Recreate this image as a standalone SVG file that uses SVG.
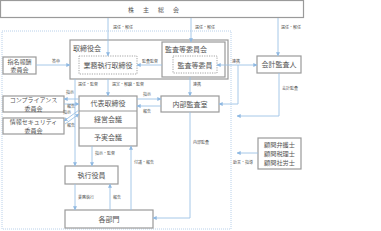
<svg xmlns="http://www.w3.org/2000/svg" width="381" height="231" viewBox="0 0 381 231">
<defs>
<marker id="ah" viewBox="0 0 6 6" refX="5.5" refY="3" markerWidth="4" markerHeight="4" orient="auto-start-reverse" markerUnits="userSpaceOnUse"><path d="M0,0 L6,3 L0,6 z" fill="#8fb9e2"/></marker>
</defs>
<style>
.box{fill:#fff;stroke:#9a9a9a;stroke-width:1.2}
.dbox{fill:#fff;stroke:#9a9a9a;stroke-width:0.9;stroke-dasharray:1.2 1.2}
.t{font-family:"Noto Sans CJK JP","Noto Sans CJK SC",sans-serif;font-size:7px;fill:#555;text-anchor:middle}
.tl{font-family:"Noto Sans CJK JP","Noto Sans CJK SC",sans-serif;font-size:7px;fill:#555}
.tc{font-family:"Noto Sans CJK JP","Noto Sans CJK SC",sans-serif;font-size:6px;fill:#555;text-anchor:middle}
.ta{font-family:"Noto Sans CJK JP","Noto Sans CJK SC",sans-serif;font-size:6.2px;fill:#555;text-anchor:middle}
.s{font-family:"Noto Sans CJK JP","Noto Sans CJK SC",sans-serif;font-size:4px;fill:#555}
.c{fill:none;stroke:#9cc2e5;stroke-width:0.9}
.a{marker-end:url(#ah)}
.b{marker-start:url(#ah);marker-end:url(#ah)}
.region{fill:none;stroke:#b8d0ea;stroke-width:1;stroke-dasharray:1 1}
</style>
<rect class="region" x="2" y="31" width="229" height="198"/>
<g id="shareholders"><rect class="box" x="0.5" y="0.5" width="303" height="17"/><text class="tl" x="128" y="11.5" style="font-size:6px;letter-spacing:9px">株主総会</text></g>
<g id="board"><rect class="box" x="70" y="40" width="158" height="39"/><text class="tl" x="73" y="51">取締役会</text></g>
<g id="exec-director"><rect class="dbox" x="79" y="56" width="58" height="18"/><text class="t" x="108" y="67.7">業務執行取締役</text></g>
<g id="audit-committee"><rect class="box" x="162" y="42" width="63" height="35"/><text class="tl" x="165" y="52">監査等委員会</text></g>
<g id="audit-member"><rect class="dbox" x="173" y="56" width="44" height="17"/><text class="t" x="195" y="67.5">監査等委員</text></g>
<g id="accounting-auditor"><rect class="box" x="257" y="56" width="44" height="17"/><text class="t" x="279" y="67.3">会計監査人</text></g>
<g id="nomination"><rect class="box" x="3" y="57" width="33" height="17"/><text class="tc" x="19.5" y="64">指名報酬</text><text class="tc" x="19.5" y="72.2">委員会</text></g>
<g id="compliance"><rect class="box" x="3" y="96" width="61" height="16"/><text class="tc" x="33.5" y="102.3">コンプライアンス</text><text class="tc" x="33.5" y="110.5">委員会</text></g>
<g id="security"><rect class="box" x="3" y="118" width="61" height="16"/><text class="tc" x="33.5" y="124.3">情報セキュリティ</text><text class="tc" x="33.5" y="132.5">委員会</text></g>
<g id="president"><rect class="box" x="79" y="96" width="58" height="50"/><line x1="79" y1="111" x2="137" y2="111" stroke="#9a9a9a" stroke-width="1.2"/><line x1="79" y1="128" x2="137" y2="128" stroke="#9a9a9a" stroke-width="1.2"/><text class="t" x="108" y="106.2">代表取締役</text><text class="t" x="108" y="122.3">経営会議</text><text class="t" x="108" y="139.7">予実会議</text></g>
<g id="internal-audit"><rect class="box" x="161" y="96" width="58" height="16"/><text class="t" x="190" y="106.7">内部監査室</text></g>
<g id="advisors"><rect class="box" x="258" y="138" width="43" height="31"/><text class="ta" x="279.5" y="146.9">顧問弁護士</text><text class="ta" x="279.5" y="155.9">顧問税理士</text><text class="ta" x="279.5" y="164.9">顧問社労士</text></g>
<g id="officers"><rect class="box" x="65" y="166" width="53" height="18"/><text class="t" x="91.5" y="177.7">執行役員</text></g>
<g id="departments"><rect class="box" x="65" y="210" width="88" height="18"/><text class="t" x="109" y="221.7">各部門</text></g>
<g id="connectors">
<path class="c a" d="M108,18 V56"/><text class="s" x="113" y="29">選任・解任</text>
<path class="c a" d="M191,18 V42"/><text class="s" x="195" y="29">選任・解任</text>
<path class="c a" d="M278,18 V56"/><text class="s" x="281" y="29">選任・解任</text>
<path class="c a" d="M36,65 H70"/><text class="s" x="52" y="63">答申</text>
<path class="c a" d="M162,65 H137"/><text class="s" x="142" y="63">監査監督</text>
<path class="c b" d="M217,65 H257"/><path class="c a" d="M238,65 V104 H219"/><text class="s" x="232" y="63">連携</text>
<path class="c a" d="M190,77 V96"/><text class="s" x="193" y="86">連携</text>
<path class="c a" d="M279,73 V116 H237"/><text class="s" x="282" y="90">会計監査</text>
<path class="c a" d="M75,79 V166"/><text class="s" x="78" y="86">選任・監督</text>
<path class="c a" d="M108,79 V96"/><text class="s" x="112" y="86">選定・解職・監督</text>
<path class="c a" d="M137,99 H161"/><text class="s" x="143" y="96">指示</text>
<path class="c a" d="M161,106 H137"/><text class="s" x="143" y="113">報告</text>
<path class="c a" d="M79,99 H64"/><text class="s" x="66" y="94">指示</text>
<path class="c a" d="M64,104 H79"/><text class="s" x="67" y="108">報告</text>
<path class="c a" d="M79,110 L64,121"/><text class="s" x="63" y="114">指示</text>
<path class="c a" d="M65,124 L79,114"/><text class="s" x="67" y="127">報告</text>
<path class="c a" d="M92,146 V166"/><text class="s" x="95" y="155">指示・監督</text>
<path class="c a" d="M131,210 V146"/><text class="s" x="134" y="164">付議・報告</text>
<path class="c a" d="M75,184 V210"/><text class="s" x="78" y="199">業務執行</text>
<path class="c a" d="M110,210 V184"/><text class="s" x="113" y="199">報告</text>
<path class="c a" d="M190,112 V218 H153"/><text class="s" x="193" y="144">内部監査</text>
<path class="c a" d="M258,153 H237"/><text class="s" x="233" y="164">助言・指導</text>
</g>
</svg>
